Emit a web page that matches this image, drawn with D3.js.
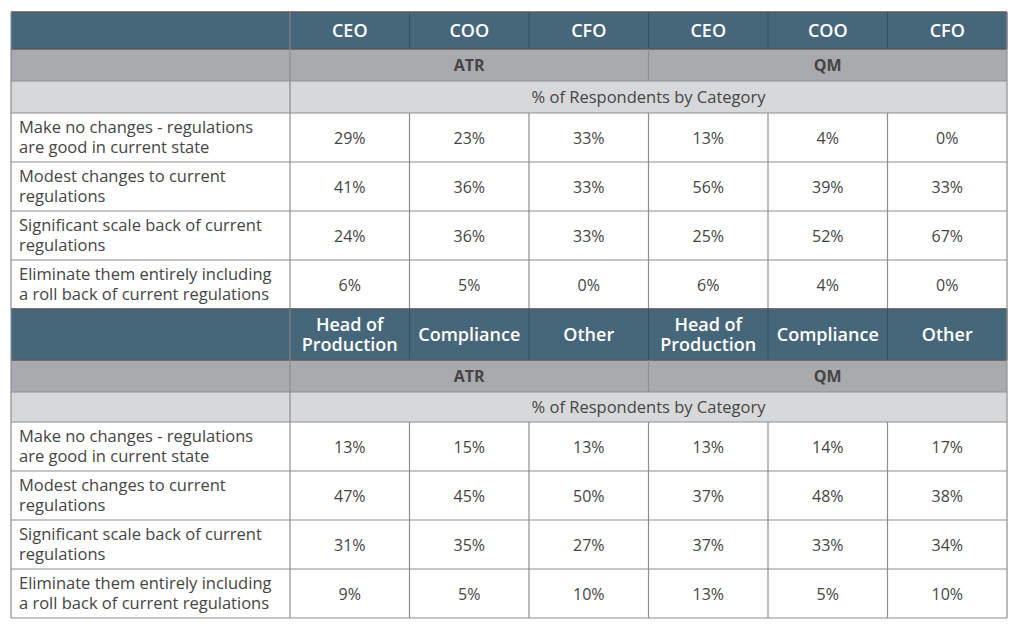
<!DOCTYPE html>
<html><head><meta charset="utf-8">
<script src="https://cdn.jsdelivr.net/npm/d3@7"></script>
<style>
html,body{margin:0;padding:0;background:#fff;}
svg{display:block;font-family:"Open Sans",sans-serif;}
</style></head>
<body><svg id="c" width="1024" height="637"></svg>
<script>
const groups = ["ATR","QM"];
const subtitle = "% of Respondents by Category";
const rowLabels = [
  ["Make no changes - regulations","are good in current state"],
  ["Modest changes to current","regulations"],
  ["Significant scale back of current","regulations"],
  ["Eliminate them entirely including","a roll back of current regulations"]
];
const rolesTop = ["CEO","COO","CFO","CEO","COO","CFO"];
const valuesTop = [
  [29,23,33,13,4,0],
  [41,36,33,56,39,33],
  [24,36,33,25,52,67],
  [6,5,0,6,4,0]
];
const rolesBottom = [["Head of","Production"],["Compliance"],["Other"],["Head of","Production"],["Compliance"],["Other"]];
const valuesBottom = [
  [13,15,13,13,14,17],
  [47,45,50,37,48,38],
  [31,35,27,37,33,34],
  [9,5,10,13,5,10]
];

const svg = d3.select("#c");
const left = 11, labelRight = 290, right = 1007;
const x = d3.scaleBand().domain(d3.range(6)).range([labelRight, right]);
const gx = d3.scaleBand().domain(groups).range([labelRight, right]);

const C = {head:"#46677a", grp:"#a9aaad", sub:"#d7d8da", text:"#454545", line:"#8e8e8e"};

function section(y0, headH, roles, values){
  const grpH = 32, subH = (headH>40?30:32), dataH = 49;
  const yHead = y0, yGrp = y0+headH, ySub = yGrp+grpH, yData = ySub+subH;
  const y = d3.scaleBand().domain(d3.range(values.length)).range([yData, yData+dataH*values.length]);
  const g = svg.append("g");
  g.append("rect").attr("x",left).attr("y",yHead).attr("width",right-left).attr("height",headH).attr("fill",C.head);
  g.append("rect").attr("x",left).attr("y",yGrp).attr("width",right-left).attr("height",grpH).attr("fill",C.grp);
  g.append("rect").attr("x",left).attr("y",ySub).attr("width",right-left).attr("height",subH).attr("fill",C.sub);
  g.append("rect").attr("x",left).attr("y",yData).attr("width",right-left).attr("height",dataH*values.length).attr("fill","#fff");
  g.selectAll(".hv").data(d3.range(7)).join("line")
    .attr("x1",i=>i===6?right:x(i)).attr("x2",i=>i===6?right:x(i))
    .attr("y1",yHead).attr("y2",yGrp).attr("stroke","#35505e").attr("stroke-width",1);
  roles.forEach((r,i)=>{
    const lines = Array.isArray(r)?r:[r];
    const t = g.append("text").attr("x",x(i)+x.bandwidth()/2).attr("text-anchor","middle")
      .attr("fill","#fff").attr("font-size",18).attr("font-weight",600);
    const cy = yHead+headH/2;
    lines.forEach((l,k)=>{
      t.append("tspan").attr("x",x(i)+x.bandwidth()/2)
        .attr("y",cy + (k-(lines.length-1)/2)*19.5 + 6.5).text(l);
    });
  });
  g.selectAll(".gl").data(groups).join("text")
    .attr("x",d=>gx(d)+gx.bandwidth()/2).attr("y",yGrp+grpH/2+5.5)
    .attr("text-anchor","middle").attr("font-size",16).attr("font-weight",700).attr("fill",C.text).text(d=>d);
  g.append("text").attr("x",(labelRight+right)/2).attr("y",ySub+subH/2+5.5)
    .attr("text-anchor","middle").attr("font-size",16.5).attr("fill",C.text).text(subtitle);
  values.forEach((row,r)=>{
    const cy = y(r)+y.bandwidth()/2;
    const t = g.append("text").attr("font-size",16.5).attr("fill",C.text);
    rowLabels[r].forEach((l,k)=>{
      t.append("tspan").attr("x",19).attr("y",cy+(k-0.5)*20.5+5.5).text(l);
    });
    g.selectAll(null).data(row).join("text")
      .attr("x",(d,i)=>x(i)+x.bandwidth()/2).attr("y",cy+6)
      .attr("text-anchor","middle").attr("font-size",16).attr("fill",C.text).text(d=>d+"%");
  });
  const hy = [yHead,yGrp,ySub,yData].concat(values.map((_,r)=>y(r)+y.bandwidth()));
  g.selectAll(".hl").data(hy).join("line")
    .attr("x1",left).attr("x2",right).attr("y1",d=>d).attr("y2",d=>d)
    .attr("stroke",(d,i)=>i<=1?"#5a5a5a":C.line).attr("stroke-width",(d,i)=>i<=1?1.3:1.2);
  [left,right].forEach(xx=>g.append("line").attr("x1",xx).attr("x2",xx).attr("y1",yHead).attr("y2",yData+dataH*values.length)
    .attr("stroke",C.line).attr("stroke-width",1.2));
  g.append("line").attr("x1",labelRight).attr("x2",labelRight).attr("y1",yHead).attr("y2",yData+dataH*values.length)
    .attr("stroke",C.line).attr("stroke-width",1.2);
  g.append("line").attr("x1",gx("QM")).attr("x2",gx("QM")).attr("y1",yGrp).attr("y2",ySub)
    .attr("stroke",C.line).attr("stroke-width",1.2);
  g.selectAll(".dv").data(d3.range(1,6)).join("line")
    .attr("x1",i=>x(i)).attr("x2",i=>x(i)).attr("y1",yData).attr("y2",yData+dataH*values.length)
    .attr("stroke",C.line).attr("stroke-width",1.2);
  return yData+dataH*values.length;
}
const y1 = section(12, 37, rolesTop, valuesTop);
section(y1, 51, rolesBottom, valuesBottom);
</script></body></html>
